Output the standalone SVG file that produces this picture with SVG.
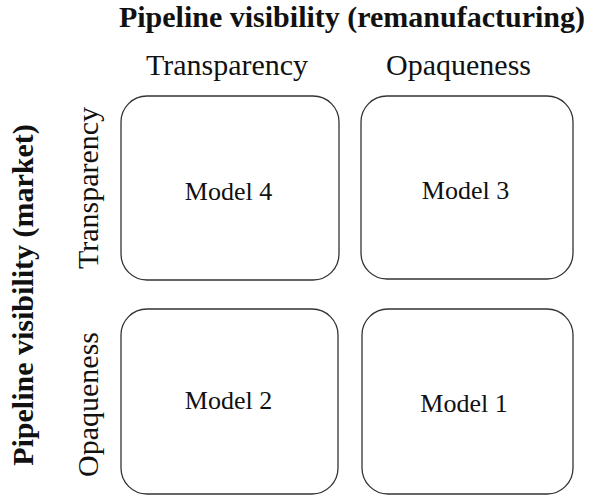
<svg xmlns="http://www.w3.org/2000/svg" width="592" height="495" viewBox="0 0 592 495">
<style>
.box{fill:#fff;stroke:#333;stroke-width:1.3}
text{font-family:"Liberation Serif","Times New Roman",serif;fill:#111;text-anchor:middle}
.h{font-size:30px;font-weight:bold}
.l{font-size:30px}
.m{font-size:26px}
</style>
<rect width="592" height="495" fill="#fff"/>
<text class="h" x="352" y="27">Pipeline visibility (remanufacturing)</text>
<text class="l" x="227" y="75">Transparency</text>
<text class="l" x="458.5" y="75">Opaqueness</text>
<text class="h" transform="translate(33,295) rotate(-90)">Pipeline visibility (market)</text>
<text class="l" transform="translate(98,188) rotate(-90)">Transparency</text>
<text class="l" transform="translate(98,404.5) rotate(-90)">Opaqueness</text>
<g id="connectors"></g>
<g id="model4"><rect class="box" x="121" y="96" width="218" height="184" rx="26"/><text class="m" x="228.5" y="199.5">Model 4</text></g>
<g id="model3"><rect class="box" x="361" y="96" width="212" height="183" rx="26"/><text class="m" x="465.5" y="199">Model 3</text></g>
<g id="model2"><rect class="box" x="121" y="309" width="217" height="185" rx="26"/><text class="m" x="228.5" y="409">Model 2</text></g>
<g id="model1"><rect class="box" x="362" y="309" width="211" height="185" rx="26"/><text class="m" x="464" y="412">Model 1</text></g>
</svg>
